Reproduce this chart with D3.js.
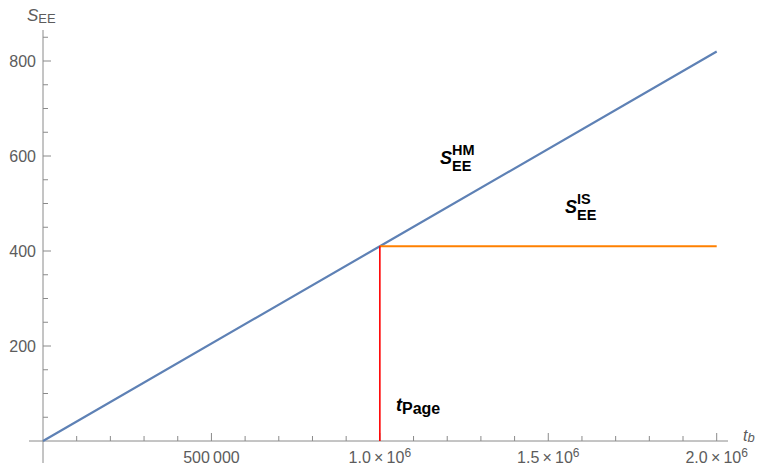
<!DOCTYPE html>
<html>
<head>
<meta charset="utf-8">
<script src="https://cdn.jsdelivr.net/npm/d3@7"></script>
<style>
  body { margin: 0; background: #fff; }
  text { font-family: "Liberation Sans", Arial, sans-serif; }
</style>
</head>
<body>
<script>
// values
const tb = [0, 1e6, 2e6];
const sHM = [0, 410, 820];
const tPage = 1e6;
const sIS = 410;
const xMajor = [500000, 1000000, 1500000, 2000000];
const xMajorLabels = [["500\u2009000"], ["1.0\u2009\u00d7\u200910", "6"], ["1.5\u2009\u00d7\u200910", "6"], ["2.0\u2009\u00d7\u200910", "6"]];
const yMajor = [200, 400, 600, 800];

const width = 757, height = 473;
const axisColor = "#8a8a8a", labelColor = "#5c5c5c";

const x = d3.scaleLinear().domain([0, 2e6]).range([43, 716.7]);
const y = d3.scaleLinear().domain([0, 800]).range([441, 61]);

const svg = d3.select("body").append("svg")
  .attr("width", width)
  .attr("height", height);

// axes lines (extended past the data like Mathematica does)
const axes = svg.append("g").attr("stroke", axisColor).attr("stroke-width", 1);
axes.append("line")
  .attr("x1", 29).attr("x2", 728)
  .attr("y1", y(0)).attr("y2", y(0));
axes.append("line")
  .attr("x1", x(0)).attr("x2", x(0))
  .attr("y1", 30).attr("y2", 463);

// x ticks
const xMinor = d3.range(100000, 2000001, 100000).filter((v) => v % 500000 !== 0);
axes.selectAll(".xminor")
  .data(xMinor)
  .join("line")
  .attr("x1", (d) => x(d)).attr("x2", (d) => x(d))
  .attr("y1", y(0)).attr("y2", y(0) - 5);
axes.selectAll(".xmajor")
  .data(xMajor)
  .join("line")
  .attr("x1", (d) => x(d)).attr("x2", (d) => x(d))
  .attr("y1", y(0)).attr("y2", y(0) - 8);

// y ticks
const yMinor = d3.range(50, 851, 50).filter((v) => v % 200 !== 0);
axes.selectAll(".yminor")
  .data(yMinor)
  .join("line")
  .attr("x1", x(0)).attr("x2", x(0) + 5)
  .attr("y1", (d) => y(d)).attr("y2", (d) => y(d));
axes.selectAll(".ymajor")
  .data(yMajor)
  .join("line")
  .attr("x1", x(0)).attr("x2", x(0) + 8)
  .attr("y1", (d) => y(d)).attr("y2", (d) => y(d));

// tick labels
svg.append("g")
  .selectAll("text")
  .data(yMajor)
  .join("text")
  .attr("x", 36)
  .attr("y", (d) => y(d) + 6)
  .attr("text-anchor", "end")
  .attr("fill", labelColor)
  .style("font-size", "16px")
  .text((d) => d);

const xl = svg.append("g")
  .selectAll("text")
  .data(xMajor)
  .join("text")
  .attr("x", (d) => x(d))
  .attr("y", 463)
  .attr("text-anchor", "middle")
  .attr("fill", labelColor)
  .style("font-size", "16px");
xl.each(function (d, i) {
  const t = d3.select(this);
  const parts = xMajorLabels[i];
  t.append("tspan").text(parts[0]);
  if (parts[1]) {
    t.append("tspan").attr("dy", -6).style("font-size", "12px").text(parts[1]);
  }
});

// axis labels
const yLab = svg.append("text").attr("x", 27).attr("y", 21).attr("fill", labelColor);
yLab.append("tspan").style("font-style", "italic").style("font-size", "17px").text("S");
yLab.append("tspan").attr("dy", 2).style("font-size", "13px").text("EE");

const xLab = svg.append("text").attr("x", 743).attr("y", 441).attr("fill", labelColor);
xLab.append("tspan").style("font-style", "italic").style("font-size", "16px").text("t");
xLab.append("tspan").attr("dy", 1).style("font-style", "italic").style("font-size", "13px").text("b");

// curves
const line = d3.line().x((d) => x(d[0])).y((d) => y(d[1]));

svg.append("path")
  .datum(d3.zip(tb, sHM))
  .attr("d", line)
  .attr("fill", "none")
  .attr("stroke", "#5e81b5")
  .attr("stroke-width", 2.2);

svg.append("path")
  .datum([[tPage, sIS], [tb[tb.length - 1], sIS]])
  .attr("d", line)
  .attr("fill", "none")
  .attr("stroke", "#ff8000")
  .attr("stroke-width", 2.2);

svg.append("path")
  .datum([[tPage, 0], [tPage, sIS]])
  .attr("d", line)
  .attr("fill", "none")
  .attr("stroke", "#ff0000")
  .attr("stroke-width", 1.6);

// annotations: one text element with stacked super/subscript
function supSub(xp, yp, main, sup, sub) {
  const t = svg.append("text").attr("x", xp).attr("y", yp)
    .attr("fill", "#000").style("font-weight", "bold");
  t.append("tspan").style("font-style", "italic").style("font-size", "18px").text(main);
  t.append("tspan").attr("x", xp + 12).attr("dy", -9).style("font-size", "14.5px").text(sup);
  t.append("tspan").attr("x", xp + 12).attr("dy", 16).style("font-size", "14.5px").text(sub);
}
supSub(440, 164, "S", "HM", "EE");
supSub(565, 213, "S", "IS", "EE");

const tp = svg.append("text").attr("x", 396).attr("y", 411).attr("fill", "#000").style("font-weight", "bold");
tp.append("tspan").style("font-style", "italic").style("font-size", "18px").text("t");
tp.append("tspan").attr("dy", 3).style("font-size", "16px").text("Page");
</script>
</body>
</html>
